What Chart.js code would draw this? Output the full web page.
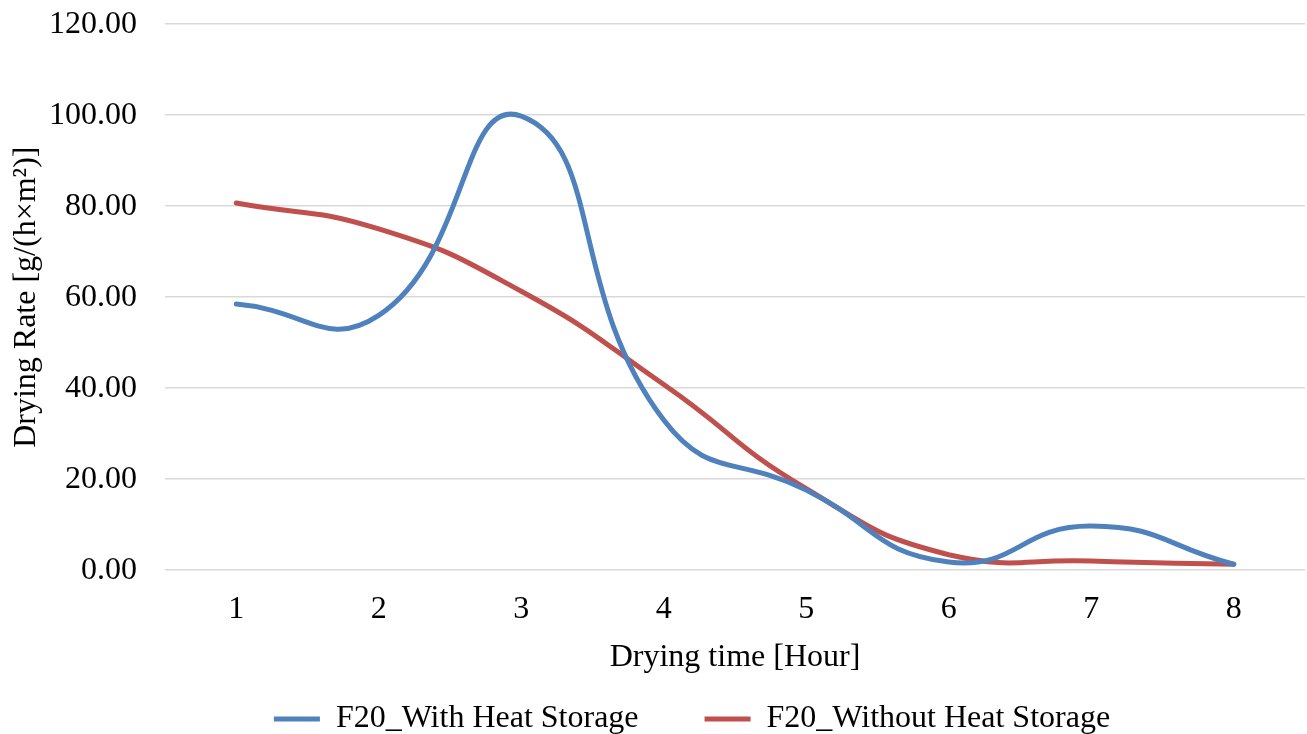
<!DOCTYPE html>
<html>
<head>
<meta charset="utf-8">
<script src="https://cdn.jsdelivr.net/npm/chart.js@4"></script>
<style>
  html, body { margin: 0; padding: 0; background: #fff; }
  #wrap { width: 1307px; height: 734px; }
</style>
</head>
<body>
<div id="wrap"><canvas id="dryingChart"></canvas></div>
<script>
  const hours = ['1', '2', '3', '4', '5', '6', '7', '8'];
  const withStorage = [58.5, 56.0, 99.8, 33.0, 17.6, 1.8, 9.7, 1.3];
  const withoutStorage = [80.7, 75.0, 61.3, 40.8, 17.9, 3.4, 2.0, 1.3];
  const yTicks = [0, 20, 40, 60, 80, 100, 120];

  const serif = "'Liberation Serif', 'Times New Roman', serif";
  Chart.defaults.font.family = serif;
  Chart.defaults.font.size = 32;
  Chart.defaults.color = '#000';

  // legend sits a bit right of centre in the original
  const legendNudge = {
    id: 'legendNudge',
    afterLayout(chart) {
      chart.legend.left += 38;
      chart.legend.right += 38;
    }
  };

  const ctx = document.getElementById('dryingChart');
  new Chart(ctx, {
    type: 'line',
    data: {
      labels: hours,
      datasets: [{
        label: 'F20_With Heat Storage',
        data: withStorage,
        borderColor: '#4F81BD',
        backgroundColor: '#4F81BD',
        borderWidth: 5,
        borderCapStyle: 'round',
        tension: 0.5,
        pointRadius: 0
      }, {
        label: 'F20_Without Heat Storage',
        data: withoutStorage,
        borderColor: '#C0504D',
        backgroundColor: '#C0504D',
        borderWidth: 5,
        borderCapStyle: 'round',
        tension: 0.5,
        pointRadius: 0
      }]
    },
    options: {
      responsive: true,
      maintainAspectRatio: false,
      animation: false,
      layout: { padding: { left: 3, right: 2, top: 4, bottom: -11 } },
      scales: {
        x: {
          offset: true,
          grid: { display: false, drawTicks: true, tickLength: 20 },
          border: { display: false },
          ticks: { padding: 0 },
          title: { display: true, text: 'Drying time [Hour]', padding: { top: 10, bottom: 16 } }
        },
        y: {
          min: 0,
          max: 120,
          afterBuildTicks: axis => { axis.ticks = yTicks.map(v => ({ value: v })); },
          afterFit: axis => { axis.width = 162; },
          grid: { color: '#D9D9D9', lineWidth: 1.5, drawTicks: true, tickLength: 23, tickColor: 'rgba(0,0,0,0)' },
          border: { display: false },
          ticks: { padding: 5, callback: v => v.toFixed(2) },
          title: { display: true, text: 'Drying Rate [g/(h×m²)]', padding: { bottom: 8 } }
        }
      },
      plugins: {
        legend: {
          position: 'bottom',
          labels: {
            usePointStyle: true,
            pointStyle: 'line',
            pointStyleWidth: 46,
            padding: 10,
            generateLabels: chart => {
              const items = Chart.defaults.plugins.legend.labels.generateLabels(chart);
              items[0].text += '       ';
              return items;
            }
          }
        },
        tooltip: { enabled: false }
      }
    },
    plugins: [legendNudge]
  });
</script>
</body>
</html>
